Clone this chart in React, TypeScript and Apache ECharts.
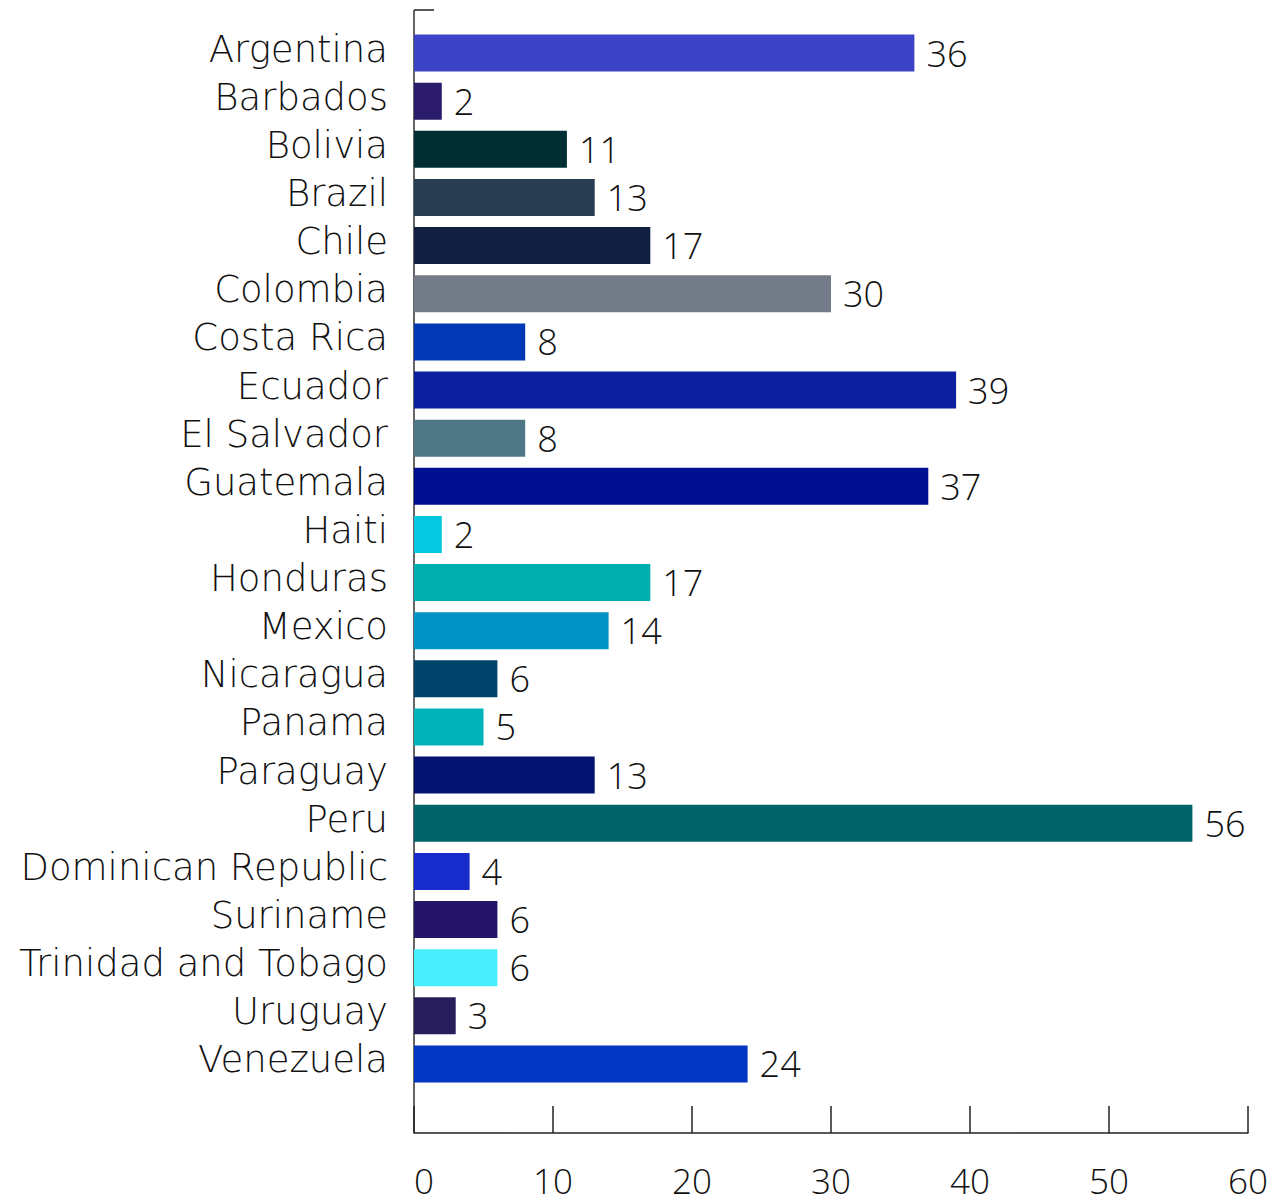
import React, { useEffect, useRef } from "react";
import * as echarts from "echarts";

const countries = [
  "Argentina", "Barbados", "Bolivia", "Brazil", "Chile", "Colombia", "Costa Rica",
  "Ecuador", "El Salvador", "Guatemala", "Haiti", "Honduras", "Mexico", "Nicaragua",
  "Panama", "Paraguay", "Peru", "Dominican Republic", "Suriname",
  "Trinidad and Tobago", "Uruguay", "Venezuela",
];
const values = [36, 2, 11, 13, 17, 30, 8, 39, 8, 37, 2, 17, 14, 6, 5, 13, 56, 4, 6, 6, 3, 24];
const colors = [
  "#3d43c6", "#2a1c6a", "#002e33", "#293d52", "#131f40", "#747b88", "#0038b5",
  "#0b1fa0", "#507786", "#000e8f", "#05c7e0", "#00aeb0", "#0093c6", "#00436b",
  "#00b3bb", "#04136f", "#006369", "#172ccb", "#251468", "#48eefc", "#281e5c", "#0335c3",
];
const xTicks = [0, 10, 20, 30, 40, 50, 60];

const FONT = "'Open Sans', Lato, sans-serif";
const CAT_FONT = "'DejaVu Sans', 'Open Sans', sans-serif";

export default function App() {
  const ref = useRef<HTMLDivElement>(null);
  useEffect(() => {
    if (!ref.current) return;
    const chart = echarts.init(ref.current, undefined, { renderer: "svg" });
    const gridLeft = 406;
    const gridTop = 21;
    const gridBottomY = 1080;
    const axisY = 1125;
    chart.setOption({
      animation: false,
      grid: { left: gridLeft, right: 28, top: gridTop, bottom: 1195 - gridBottomY, containLabel: false },
      xAxis: {
        type: "value",
        min: xTicks[0],
        max: xTicks[xTicks.length - 1],
        interval: 10,
        offset: axisY - gridBottomY,
        splitLine: { show: false },
        axisLine: { show: true, lineStyle: { color: "#222", width: 1.5 } },
        axisTick: { show: true, inside: true, length: 27, lineStyle: { color: "#222", width: 1.5 } },
        axisLabel: { color: "#111", fontSize: 35, fontWeight: 300, fontFamily: FONT, margin: 30, alignMinLabel: "left" },
      },
      yAxis: {
        type: "category",
        inverse: true,
        data: countries,
        axisLine: { show: false },
        axisTick: { show: false },
        axisLabel: {
          margin: 26,
          interval: 0,
          showMinLabel: true,
          showMaxLabel: true,
          hideOverlap: false,
          verticalAlign: "middle",
          formatter: (v: string) => `{a|${v}}\n{b|}`,
          rich: {
            a: { color: "#111", fontSize: 37, fontWeight: 200, fontFamily: CAT_FONT, lineHeight: 36, align: "right" },
            b: { fontSize: 8, lineHeight: 8 },
          },
        },
      },
      graphic: [
        { type: "line", shape: { x1: gridLeft, y1: 2, x2: gridLeft, y2: axisY }, style: { stroke: "#333", lineWidth: 1.5 } },
        { type: "line", shape: { x1: gridLeft, y1: 2, x2: gridLeft + 20, y2: 2 }, style: { stroke: "#222", lineWidth: 1.5 } },
      ],
      series: [
        {
          type: "bar",
          data: values.map((v, i) => ({ value: v, itemStyle: { color: colors[i] } })),
          barWidth: 37,
          label: {
            show: true,
            position: "right",
            distance: 12,
            color: "#111",
            fontSize: 36,
            fontWeight: 300,
            fontFamily: FONT,
            padding: [6, 0, 0, 0],
          },
        },
      ],
    });
    return () => chart.dispose();
  }, []);
  return <div ref={ref} style={{ width: 1268, height: 1195 }} />;
}
